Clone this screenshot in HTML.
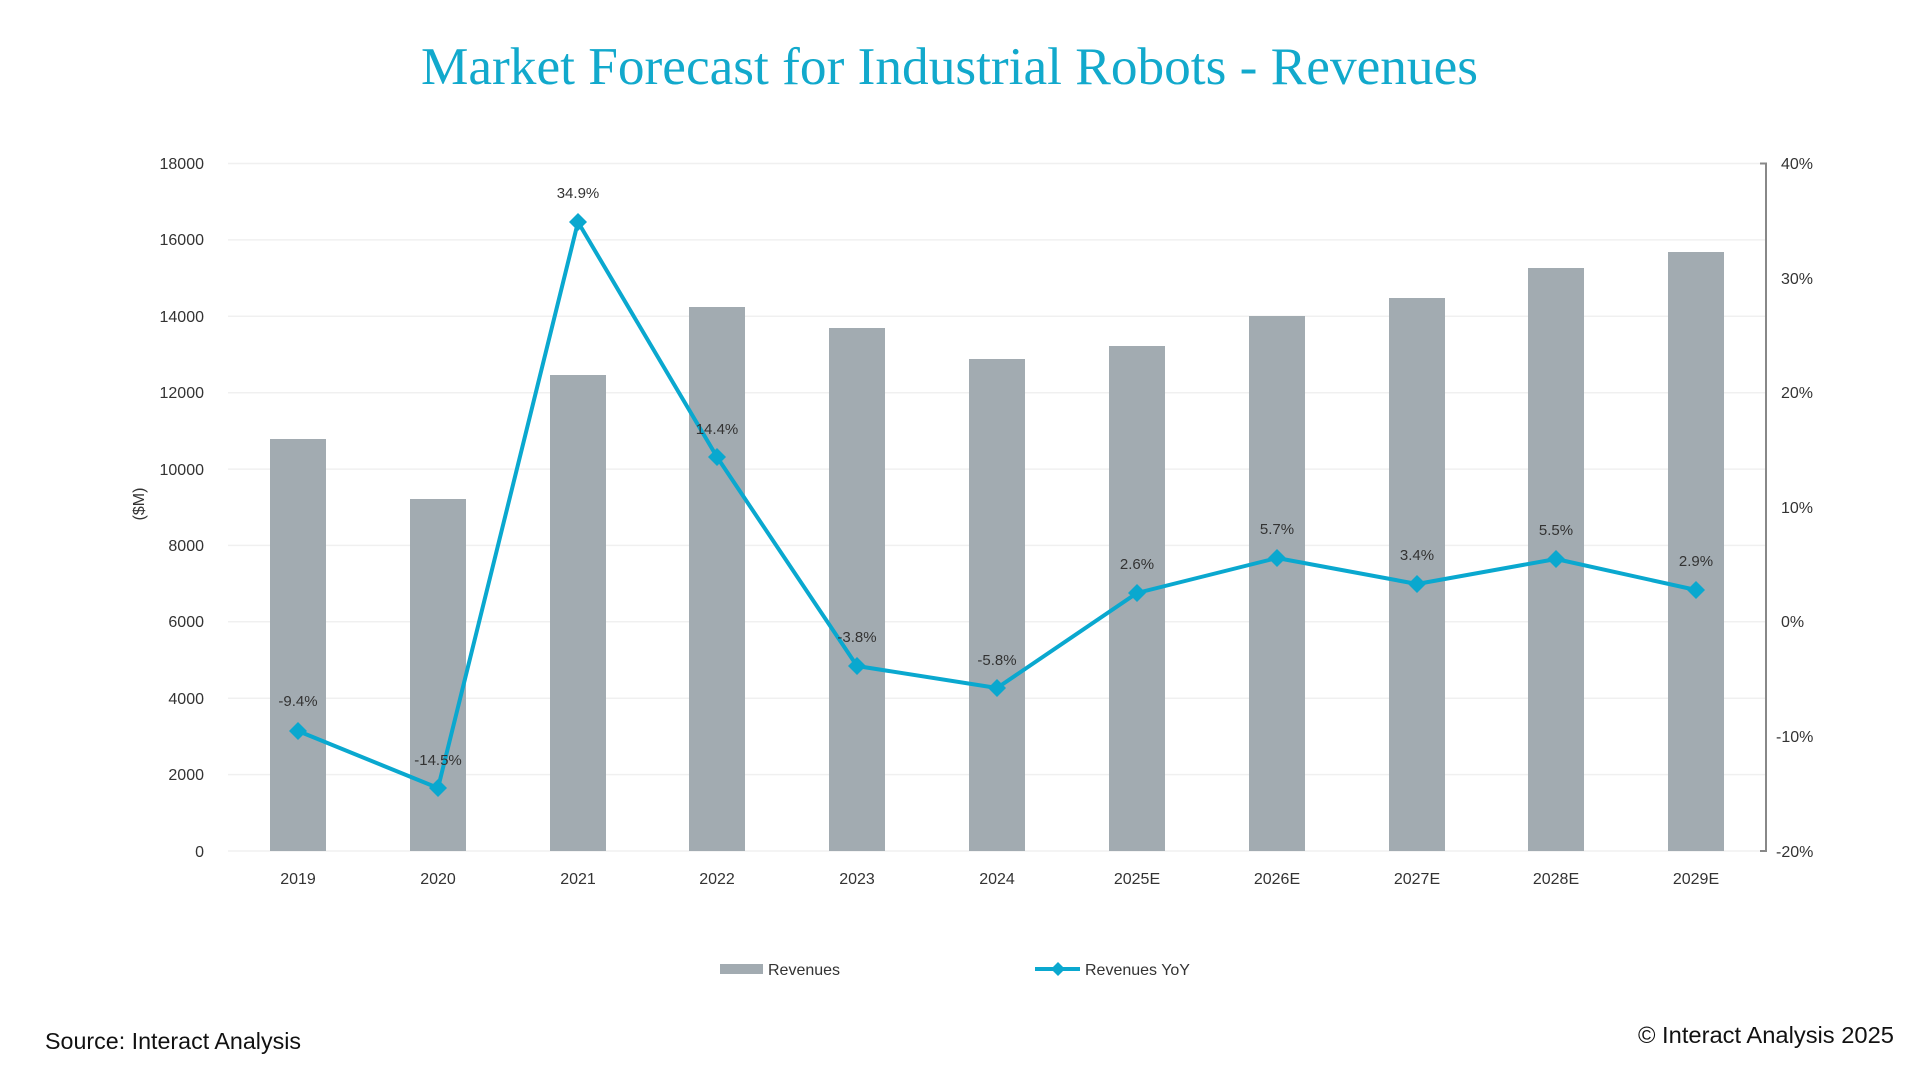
<!DOCTYPE html>
<html><head><meta charset="utf-8"><style>
html,body{margin:0;padding:0;background:#fff;width:1920px;height:1080px;overflow:hidden}
svg{display:block}
</style></head><body>
<svg width="1920" height="1080" xmlns="http://www.w3.org/2000/svg" font-family="Liberation Sans, sans-serif">
<text x="421" y="84" font-family="Liberation Serif, serif" font-size="53" fill="#12a9cc" textLength="1057" lengthAdjust="spacingAndGlyphs">Market Forecast for Industrial Robots - Revenues</text>
<g stroke="#f0f0f0" stroke-width="1.5">
<line x1="228" y1="163.5" x2="1766" y2="163.5"/><line x1="228" y1="239.9" x2="1766" y2="239.9"/><line x1="228" y1="316.3" x2="1766" y2="316.3"/><line x1="228" y1="392.7" x2="1766" y2="392.7"/><line x1="228" y1="469.1" x2="1766" y2="469.1"/><line x1="228" y1="545.4" x2="1766" y2="545.4"/><line x1="228" y1="621.8" x2="1766" y2="621.8"/><line x1="228" y1="698.2" x2="1766" y2="698.2"/><line x1="228" y1="774.6" x2="1766" y2="774.6"/><line x1="228" y1="851" x2="1766" y2="851"/>
</g>
<g fill="#333" font-size="16" text-anchor="end">
<text x="204" y="169">18000</text><text x="204" y="245">16000</text><text x="204" y="322">14000</text><text x="204" y="398">12000</text><text x="204" y="475">10000</text><text x="204" y="551">8000</text><text x="204" y="627">6000</text><text x="204" y="704">4000</text><text x="204" y="780">2000</text><text x="204" y="857">0</text>
</g>
<text transform="translate(144,504) rotate(-90)" font-size="16" fill="#333" text-anchor="middle">($M)</text>
<g fill="#a2abb1">
<rect x="270" y="439" width="56" height="412"/>
<rect x="410" y="499" width="56" height="352"/>
<rect x="550" y="375" width="56" height="476"/>
<rect x="689" y="307" width="56" height="544"/>
<rect x="829" y="328" width="56" height="523"/>
<rect x="969" y="359" width="56" height="492"/>
<rect x="1109" y="346" width="56" height="505"/>
<rect x="1249" y="316" width="56" height="535"/>
<rect x="1389" y="298" width="56" height="553"/>
<rect x="1528" y="268" width="56" height="583"/>
<rect x="1668" y="252" width="56" height="599"/>
</g>
<path d="M1760 163.5 H1766 V851 H1760" fill="none" stroke="#888" stroke-width="2"/>
<g fill="#333" font-size="16">
<text x="1781" y="169">40%</text><text x="1781" y="284">30%</text><text x="1781" y="398">20%</text><text x="1781" y="513">10%</text><text x="1781" y="627">0%</text><text x="1776" y="742">-10%</text><text x="1776" y="857">-20%</text>
</g>
<g fill="#333" font-size="16" text-anchor="middle">
<text x="298" y="884">2019</text><text x="438" y="884">2020</text><text x="578" y="884">2021</text><text x="717" y="884">2022</text><text x="857" y="884">2023</text><text x="997" y="884">2024</text><text x="1137" y="884">2025E</text><text x="1277" y="884">2026E</text><text x="1417" y="884">2027E</text><text x="1556" y="884">2028E</text><text x="1696" y="884">2029E</text>
</g>
<polyline fill="none" stroke="#0aa8cf" stroke-width="4" stroke-linejoin="round" points="298,731 438,788 578,222 717,457 857,666 997,688 1137,593 1277,558 1417,584 1556,559 1696,590"/>
<g fill="#0aa8cf">
<path d="M298 722l9 9-9 9-9-9z"/><path d="M438 779l9 9-9 9-9-9z"/><path d="M578 213l9 9-9 9-9-9z"/><path d="M717 448l9 9-9 9-9-9z"/><path d="M857 657l9 9-9 9-9-9z"/><path d="M997 679l9 9-9 9-9-9z"/><path d="M1137 584l9 9-9 9-9-9z"/><path d="M1277 549l9 9-9 9-9-9z"/><path d="M1417 575l9 9-9 9-9-9z"/><path d="M1556 550l9 9-9 9-9-9z"/><path d="M1696 581l9 9-9 9-9-9z"/>
</g>
<g fill="#333" font-size="15" text-anchor="middle">
<text x="298" y="706">-9.4%</text><text x="438" y="765">-14.5%</text><text x="578" y="198">34.9%</text><text x="717" y="434">14.4%</text><text x="857" y="642">-3.8%</text><text x="997" y="665">-5.8%</text><text x="1137" y="569">2.6%</text><text x="1277" y="534">5.7%</text><text x="1417" y="560">3.4%</text><text x="1556" y="535">5.5%</text><text x="1696" y="566">2.9%</text>
</g>
<rect x="720" y="964" width="43" height="10" fill="#a2abb1"/>
<text x="768" y="975" font-size="16" fill="#333">Revenues</text>
<line x1="1035" y1="969" x2="1080" y2="969" stroke="#0aa8cf" stroke-width="4"/>
<path d="M1058 962l7 7-7 7-7-7z" fill="#0aa8cf"/>
<text x="1085" y="975" font-size="16" fill="#333">Revenues YoY</text>
<text x="45" y="1049" font-size="23" fill="#111" textLength="256" lengthAdjust="spacingAndGlyphs">Source: Interact Analysis</text>
<text x="1638" y="1043" font-size="23" fill="#111" textLength="256" lengthAdjust="spacingAndGlyphs">© Interact Analysis 2025</text>
</svg>
</body></html>
